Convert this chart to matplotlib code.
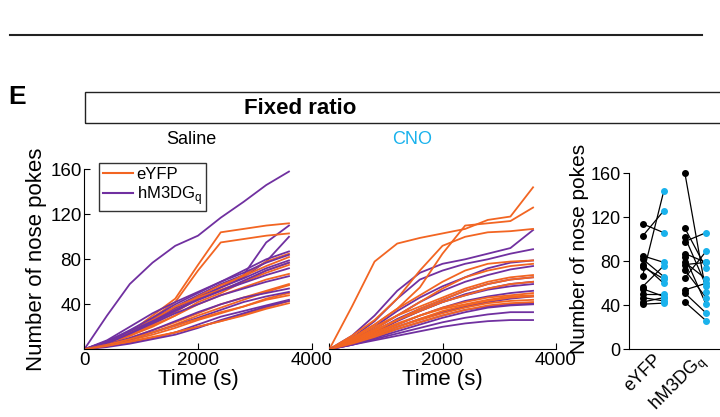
import numpy as np
import matplotlib
matplotlib.use("Agg")
import matplotlib.pyplot as plt
from matplotlib.lines import Line2D
from matplotlib.patches import Rectangle

plt.rcParams['font.family'] = ['Liberation Sans', 'DejaVu Sans']

# cumulative nose pokes, sampled every 400 s
time_s = [0, 400, 800, 1200, 1600, 2000, 2400, 2800, 3200, 3600]

saline_eyfp = [
    [0, 6, 15, 30, 45, 75, 104, 107, 110, 112],
    [0, 5, 14, 28, 42, 70, 95, 98, 101, 103],
    [0, 6, 13, 22, 33, 45, 55, 66, 78, 85],
    [0, 5, 14, 25, 36, 47, 57, 65, 74, 82],
    [0, 5, 12, 21, 30, 42, 50, 60, 70, 77],
    [0, 6, 15, 26, 38, 46, 53, 60, 68, 75],
    [0, 5, 12, 20, 30, 40, 48, 55, 62, 67],
    [0, 4, 10, 17, 24, 32, 40, 46, 52, 58],
    [0, 4, 9, 15, 22, 30, 37, 44, 51, 57],
    [0, 3, 8, 13, 19, 26, 32, 38, 45, 50],
    [0, 4, 9, 15, 21, 27, 33, 38, 44, 48],
    [0, 3, 6, 10, 15, 20, 25, 31, 37, 43],
    [0, 3, 7, 11, 15, 20, 25, 30, 36, 41],
]
saline_hm3 = [
    [0, 30, 58, 77, 92, 101, 117, 131, 146, 158],
    [0, 7, 16, 27, 38, 48, 58, 66, 95, 110],
    [0, 6, 14, 24, 35, 45, 55, 64, 78, 100],
    [0, 7, 17, 28, 40, 50, 60, 70, 80, 87],
    [0, 8, 20, 32, 42, 51, 60, 68, 77, 84],
    [0, 6, 15, 26, 37, 46, 55, 63, 72, 79],
    [0, 7, 16, 25, 35, 44, 52, 61, 70, 77],
    [0, 5, 14, 24, 34, 44, 52, 59, 66, 72],
    [0, 6, 14, 23, 32, 40, 48, 54, 60, 65],
    [0, 4, 10, 17, 25, 33, 40, 46, 50, 54],
    [0, 4, 9, 15, 21, 28, 35, 42, 47, 51],
    [0, 3, 6, 10, 15, 22, 29, 34, 39, 44],
    [0, 2, 5, 9, 13, 19, 26, 32, 38, 43],
]
cno_eyfp = [
    [0, 38, 78, 94, 99, 103, 107, 115, 118, 144],
    [0, 10, 22, 36, 55, 85, 110, 112, 114, 126],
    [0, 12, 26, 45, 70, 92, 100, 104, 105, 107],
    [0, 10, 22, 36, 48, 60, 70, 76, 78, 79],
    [0, 8, 18, 30, 42, 54, 64, 70, 74, 76],
    [0, 9, 20, 30, 38, 46, 54, 60, 64, 66],
    [0, 7, 16, 26, 36, 44, 52, 58, 62, 64],
    [0, 8, 17, 26, 34, 42, 48, 54, 58, 60],
    [0, 6, 14, 22, 30, 37, 42, 46, 48, 50],
    [0, 7, 15, 23, 30, 36, 40, 44, 47, 48],
    [0, 5, 12, 20, 27, 34, 39, 43, 46, 47],
    [0, 6, 13, 20, 26, 32, 37, 41, 43, 44],
    [0, 5, 11, 18, 24, 30, 35, 39, 41, 42],
]
cno_hm3 = [
    [0, 12, 30, 52, 68, 76, 80, 85, 90, 106],
    [0, 10, 25, 45, 62, 70, 76, 80, 85, 89],
    [0, 8, 20, 34, 46, 56, 64, 72, 77, 79],
    [0, 7, 18, 30, 42, 52, 60, 66, 71, 74],
    [0, 7, 16, 27, 36, 44, 52, 58, 62, 64],
    [0, 6, 15, 25, 34, 42, 49, 54, 58, 60],
    [0, 7, 16, 26, 34, 42, 48, 53, 56, 58],
    [0, 6, 14, 22, 30, 37, 43, 47, 50, 52],
    [0, 5, 12, 20, 27, 33, 38, 42, 45, 47],
    [0, 5, 11, 18, 24, 30, 35, 38, 40, 41],
    [0, 4, 10, 16, 22, 28, 33, 37, 39, 40],
    [0, 4, 9, 14, 19, 24, 28, 31, 33, 33],
    [0, 4, 8, 12, 16, 20, 23, 25, 26, 26],
]

# paired totals (saline -> CNO)
pair_eyfp_sal = [114, 103, 85, 82, 77, 75, 67, 57, 55, 50, 47, 43, 41]
pair_eyfp_cno = [106, 126, 79, 66, 60, 64, 144, 76, 48, 50, 44, 47, 42]
pair_hm3_sal = [160, 110, 102, 98, 87, 84, 79, 77, 72, 65, 54, 51, 43]
pair_hm3_cno = [52, 74, 58, 106, 79, 41, 64, 79, 47, 89, 60, 33, 26]
group_labels = ['eYFP', 'hM3DG$_\\mathregular{q}$']

ORANGE = '#F26522'
PURPLE = '#7030A0'
BLUE = '#1AB2EC'

fig = plt.figure(figsize=(7.2, 4.17), dpi=100)

# header stuff
fig.add_artist(Line2D([10 / 720, 702 / 720], [1 - 35 / 417, 1 - 35 / 417],
                      color='#222222', lw=1.5))
fig.text(8 / 720, 1 - 97 / 417, 'E', fontsize=19, fontweight='bold', va='center')
fig.add_artist(Rectangle((85 / 720, 1 - 123 / 417), 0.9, 31 / 417,
                         fill=False, edgecolor='#222222', lw=1.0))
fig.text(300 / 720, 1 - 108 / 417, 'Fixed ratio', fontsize=16, fontweight='bold',
         ha='center', va='center')
fig.text(191 / 720, 1 - 140 / 417, 'Saline', fontsize=13, ha='center', va='center')
fig.text(412 / 720, 1 - 140 / 417, 'CNO', fontsize=13, ha='center', va='center', color=BLUE)

bot = 1 - 349.3 / 417
hgt = 180 / 417
ax1 = fig.add_axes([84.3 / 720, bot, 227.4 / 720, hgt])
ax2 = fig.add_axes([329.3 / 720, bot, 226.4 / 720, hgt])

for ax, eyfp, hm3 in [(ax1, saline_eyfp, saline_hm3), (ax2, cno_eyfp, cno_hm3)]:
    for i in range(len(eyfp)):
        ax.plot(time_s, hm3[i], color=PURPLE, lw=1.3)
        ax.plot(time_s, eyfp[i], color=ORANGE, lw=1.3)
    ax.set_xlim(0, 4000)
    ax.set_ylim(0, 160)
    ax.spines['top'].set_visible(False)
    ax.spines['right'].set_visible(False)
    ax.tick_params(direction='in', labelsize=13.5, length=4, width=0.8, pad=2)
    ax.set_xticks([0, 2000, 4000])
    ax.set_xlabel('Time (s)', fontsize=16, labelpad=0)

ax1.set_yticks([40, 80, 120, 160])
ax1.set_ylabel('Number of nose pokes', fontsize=16, labelpad=2)
ax2.set_xticklabels(['', '2000', '4000'])
ax2.spines['left'].set_visible(False)
ax2.set_yticks([])

handles = [Line2D([], [], color=ORANGE, lw=1.5), Line2D([], [], color=PURPLE, lw=1.5)]
leg = ax1.legend(handles, group_labels, loc='upper left', bbox_to_anchor=(0.065, 1.035),
                 fontsize=12, frameon=True, fancybox=False, handlelength=1.8,
                 handletextpad=0.2, borderpad=0.25, labelspacing=0.1, borderaxespad=0)
leg.get_frame().set_edgecolor('black')
leg.get_frame().set_linewidth(1.0)

# paired plot
ax3 = fig.add_axes([629 / 720, bot, 92 / 720, 176 / 417])
xs = [1, 2, 3, 4]
for a, b in zip(pair_eyfp_sal, pair_eyfp_cno):
    ax3.plot([xs[0], xs[1]], [a, b], color='black', lw=0.9, zorder=2)
for a, b in zip(pair_hm3_sal, pair_hm3_cno):
    ax3.plot([xs[2], xs[3]], [a, b], color='black', lw=0.9, zorder=2)
ax3.scatter([xs[0]] * len(pair_eyfp_sal), pair_eyfp_sal, s=16, color='black', zorder=3, clip_on=False)
ax3.scatter([xs[1]] * len(pair_eyfp_cno), pair_eyfp_cno, s=16, color=BLUE, zorder=3, clip_on=False)
ax3.scatter([xs[2]] * len(pair_hm3_sal), pair_hm3_sal, s=16, color='black', zorder=3, clip_on=False)
ax3.scatter([xs[3]] * len(pair_hm3_cno), pair_hm3_cno, s=16, color=BLUE, zorder=3, clip_on=False)
ax3.set_xlim(0.35, 4.71)
ax3.set_ylim(0, 160)
ax3.set_yticks([0, 40, 80, 120, 160])
ax3.spines['top'].set_visible(False)
ax3.spines['right'].set_visible(False)
ax3.tick_params(axis='y', labelsize=13, length=4, width=0.8, pad=2)
ax3.set_xticks([1.5, 3.5])
ax3.set_xticklabels(group_labels, rotation=45, ha='right', va='top',
                    rotation_mode='anchor', fontsize=13)
ax3.tick_params(axis='x', length=0, pad=1)
ax3.set_ylabel('Number of nose pokes', fontsize=15)
ax3.yaxis.set_label_coords(-0.43, 0.57)

fig.savefig('out.png', dpi=100)
